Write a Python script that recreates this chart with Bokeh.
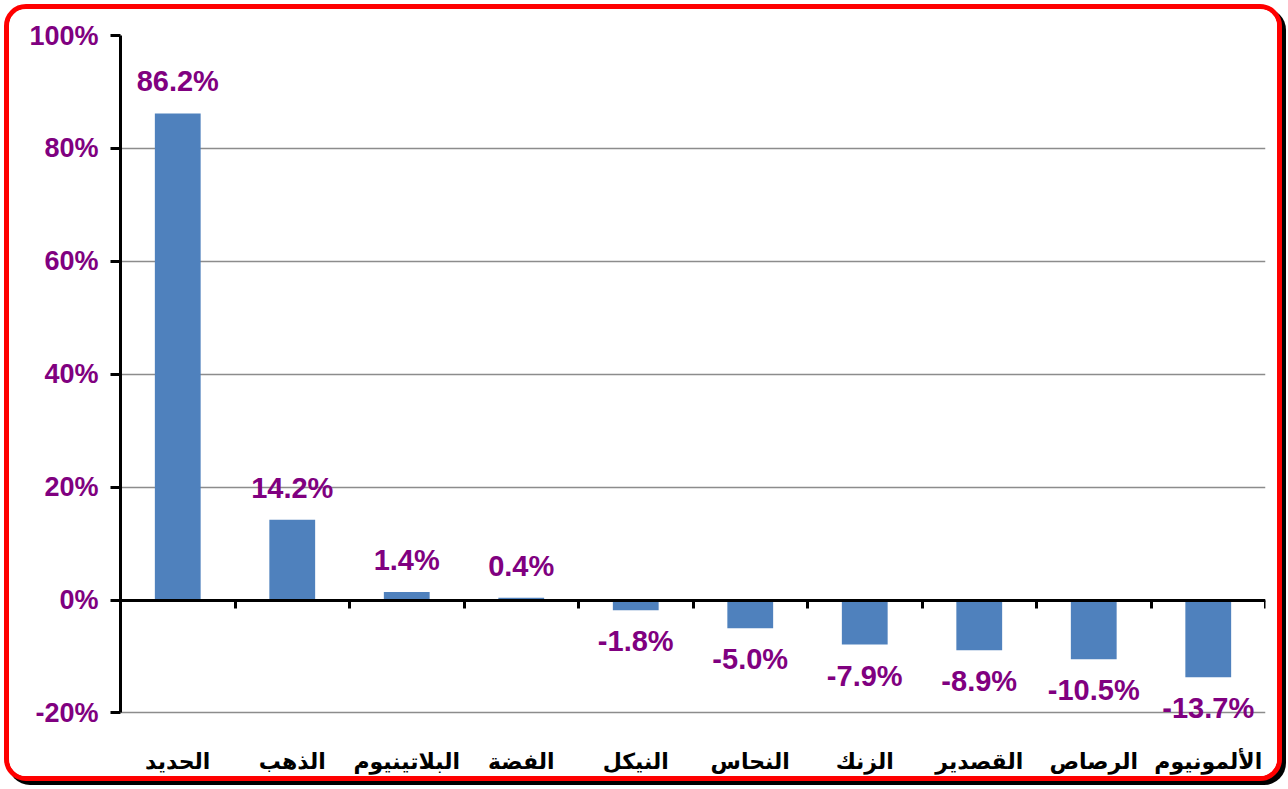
from bokeh.plotting import figure
from bokeh.models import (ColumnDataSource, FixedTicker, LinearAxis, PrintfTickFormatter,
                          Range1d, Column, LabelSet)
from bokeh.core.properties import value
from bokeh.embed import file_html
from bokeh.resources import INLINE

categories = ["الحديد", "الذهب", "البلاتينيوم", "الفضة", "النيكل",
              "النحاس", "الزنك", "القصدير", "الرصاص", "الألمونيوم"]
values = [86.2, 14.2, 1.4, 0.4, -1.8, -5.0, -7.9, -8.9, -10.5, -13.7]
y_ticks = [-20, 0, 20, 40, 60, 80, 100]

n = len(categories)
xs = [i + 0.5 for i in range(n)]
labels = [f"{v:.1f}%" for v in values]

pos = ColumnDataSource(dict(x=[x for x, v in zip(xs, values) if v >= 0],
                            y=[v for v in values if v >= 0],
                            t=[l for l, v in zip(labels, values) if v >= 0]))
neg = ColumnDataSource(dict(x=[x for x, v in zip(xs, values) if v < 0],
                            y=[v for v in values if v < 0],
                            t=[l for l, v in zip(labels, values) if v < 0]))
bars = ColumnDataSource(dict(x=xs, top=values))

PURPLE = "#800080"

# frame extends a little below -20 so the lowest data label is not clipped
p = figure(width=1268, height=767, output_backend="svg", toolbar_location=None,
           x_range=Range1d(0, n), y_range=Range1d(y_ticks[0] - 4, y_ticks[-1]),
           min_border_left=111, min_border_right=12, min_border_top=26,
           min_border_bottom=41, x_axis_location=None)
p.outline_line_color = None
p.background_fill_color = "white"
p.border_fill_color = "white"

p.vbar(x="x", top="top", bottom=0, width=0.4, source=bars,
       fill_color="#4F81BD", line_color=None)

# y axis
ya = p.yaxis[0]
ya.bounds = (y_ticks[0], y_ticks[-1])
ya.ticker = FixedTicker(ticks=y_ticks)
ya.formatter = PrintfTickFormatter(format="%d%%")
ya.axis_line_color = "black"
ya.axis_line_width = 3
ya.major_tick_line_color = "black"
ya.major_tick_line_width = 3
ya.major_tick_out = 10
ya.major_tick_in = 0
ya.minor_tick_line_color = None
ya.major_label_standoff = 12
ya.major_label_text_font = "Liberation Sans"
ya.major_label_text_font_style = "bold"
ya.major_label_text_font_size = "27px"
ya.major_label_text_color = PURPLE

p.ygrid.ticker = FixedTicker(ticks=y_ticks)
p.ygrid.grid_line_color = "#8c8c8c"
p.ygrid.grid_line_width = 1.5
p.xgrid.grid_line_color = None

# category labels at bottom
xa = LinearAxis(ticker=FixedTicker(ticks=xs),
                major_label_overrides={x: c for x, c in zip(xs, categories)})
xa.axis_line_color = None
xa.major_tick_line_color = None
xa.minor_tick_line_color = None
xa.major_label_standoff = 7
xa.major_label_text_font = "DejaVu Sans"
xa.major_label_text_font_style = "bold"
xa.major_label_text_font_size = "22px"
xa.major_label_text_color = "black"
p.add_layout(xa, "below")

# zero line axis with separator ticks
za = LinearAxis(ticker=FixedTicker(ticks=list(range(n + 1))), fixed_location=0)
za.axis_line_color = "black"
za.axis_line_width = 3
za.major_tick_line_color = "black"
za.major_tick_line_width = 3
za.major_tick_out = 8
za.major_tick_in = 0
za.minor_tick_line_color = None
za.major_label_text_font_size = "0px"
za.major_label_text_alpha = 0
p.add_layout(za, "below")

common = dict(x="x", y="y", text="t", text_align="center", text_color=PURPLE,
              text_font=value("Liberation Sans"), text_font_size="29px",
              text_font_style="bold")
p.add_layout(LabelSet(source=pos, text_baseline="bottom", y_offset=16, **common))
p.add_layout(LabelSet(source=neg, text_baseline="top", y_offset=-15, **common))

layout = Column(p, styles={"border": "5px solid #ff0000", "border-radius": "22px",
                           "box-shadow": "4px 4px 0 #000000", "overflow": "hidden",
                           "margin-left": "4px", "margin-top": "4px",
                           "background-color": "white"})

open("out.html", "w").write(file_html(layout, INLINE))
